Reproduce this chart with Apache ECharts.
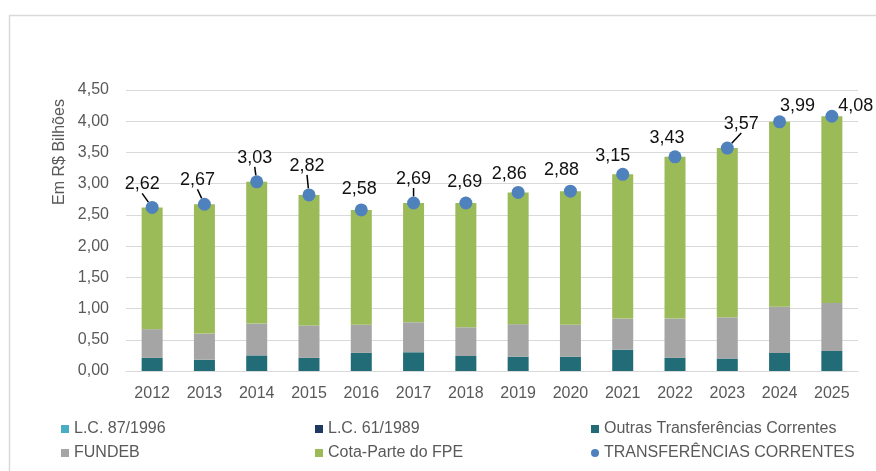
<!DOCTYPE html>
<html>
<head>
<meta charset="utf-8">
<script src="https://cdn.jsdelivr.net/npm/echarts@6/dist/echarts.min.js"></script>
<style>
html,body{margin:0;padding:0;background:#fff;}
#chart{width:876px;height:471px;}
</style>
</head>
<body>
<div id="chart"></div>
<script>
// ---- data ----
var years = ['2012','2013','2014','2015','2016','2017','2018','2019','2020','2021','2022','2023','2024','2025'];
var lc87 = [0,0,0,0,0,0,0,0,0,0,0,0,0,0];
var lc61 = [0,0,0,0,0,0,0,0,0,0,0,0,0,0];
var outras = [0.21,0.18,0.25,0.21,0.29,0.30,0.24,0.23,0.23,0.34,0.21,0.20,0.29,0.32];
var fundeb = [0.46,0.42,0.51,0.52,0.45,0.48,0.46,0.52,0.51,0.50,0.63,0.66,0.74,0.77];
var cotaFPE = [1.95,2.07,2.27,2.09,1.84,1.91,1.99,2.11,2.14,2.31,2.59,2.71,2.96,2.99];
var totais = [2.62,2.67,3.03,2.82,2.58,2.69,2.69,2.86,2.88,3.15,3.43,3.57,3.99,4.08];
var yTicks = [0,0.5,1,1.5,2,2.5,3,3.5,4,4.5];

// label placement (style, not data)
var labelDx = [-10,-7,-2,-2,-2,0,-1,-9,-9,-10,-8,14,18,24];
var labelDy = [-23,-24,-24,-29,-21,-24,-21,-18,-21,-18,-19,-24,-16,-10];
var leader = [true,true,true,true,false,true,false,false,false,false,false,true,false,false];

var fmt = function(v){ return v.toFixed(2).replace('.', ','); };

var chart = echarts.init(document.getElementById('chart'), null, {renderer:'canvas'});
var axisFont = {fontFamily:'Liberation Sans', fontSize:16, color:'#595959'};
var legendText = {fontFamily:'Liberation Sans', fontSize:16, color:'#595959'};

function barSeries(name, data, color){
  return {name:name, type:'bar', stack:'t', data:data, barWidth:21,
    itemStyle:{color:color}, emphasis:{disabled:true}, z:2};
}

var scatterData = totais.map(function(v,i){
  return {value:v, labelLine:{show:leader[i]}};
});

var option = {
  animation:false,
  backgroundColor:'#ffffff',
  grid:{left:126, right:18, top:90, bottom:100, containLabel:false},
  xAxis:{type:'category', data:years,
    axisLine:{show:true, lineStyle:{color:'#D9D9D9', width:1}},
    axisTick:{show:false},
    axisLabel:Object.assign({margin:15}, axisFont)
  },
  yAxis:{type:'value', min:0, max:4.5, interval:0.5,
    axisLine:{show:false}, axisTick:{show:false},
    splitLine:{lineStyle:{color:'#D9D9D9', width:1}},
    axisLabel:Object.assign({margin:17, formatter:function(v){return fmt(v);}}, axisFont)
  },
  legend:[
    {left:56, top:416, orient:'vertical', itemGap:8, itemWidth:8, itemHeight:8, textStyle:legendText,
     data:[{name:'L.C. 87/1996', icon:'rect'},{name:'FUNDEB', icon:'rect'}], selectedMode:false},
    {left:310, top:416, orient:'vertical', itemGap:8, itemWidth:8, itemHeight:8, textStyle:legendText,
     data:[{name:'L.C. 61/1989', icon:'rect'},{name:'Cota-Parte do FPE', icon:'rect'}], selectedMode:false},
    {left:586, top:416, orient:'vertical', itemGap:8, itemWidth:8, itemHeight:8, textStyle:legendText,
     data:[{name:'Outras Transferências Correntes', icon:'rect'},{name:'TRANSFERÊNCIAS CORRENTES', icon:'circle'}], selectedMode:false}
  ],
  graphic:[
    {type:'rect', silent:true, shape:{x:9.5, y:15.5, width:900, height:500},
     style:{fill:'none', stroke:'#D9D9D9', lineWidth:1.5}, z:-1},
    {type:'text', silent:true, x:60, y:152, rotation:Math.PI/2,
     style:{text:'Em R$ Bilhões', font:'16px "Liberation Sans"', fill:'#595959', align:'center', verticalAlign:'middle'}}
  ],
  series:[
    barSeries('L.C. 87/1996', lc87, '#4BACC6'),
    barSeries('L.C. 61/1989', lc61, '#1F3864'),
    barSeries('Outras Transferências Correntes', outras, '#226C77'),
    barSeries('FUNDEB', fundeb, '#A5A5A5'),
    barSeries('Cota-Parte do FPE', cotaFPE, '#9BBB59'),
    {name:'TRANSFERÊNCIAS CORRENTES', type:'scatter', data:scatterData,
     symbol:'circle', symbolSize:13, itemStyle:{color:'#4F81BD', opacity:1}, z:5,
     emphasis:{disabled:true},
     label:{show:true, position:'inside', align:'center', verticalAlign:'middle',
       fontFamily:'Liberation Sans', fontSize:18, color:'#111',
       formatter:function(p){return fmt(p.value);}},
     labelLayout:function(p){ return {dx:labelDx[p.dataIndex], dy:labelDy[p.dataIndex]}; },
     labelLine:{show:true, lineStyle:{color:'#000', width:1.5}}
    }
  ]
};
chart.setOption(option);
</script>
</body>
</html>
